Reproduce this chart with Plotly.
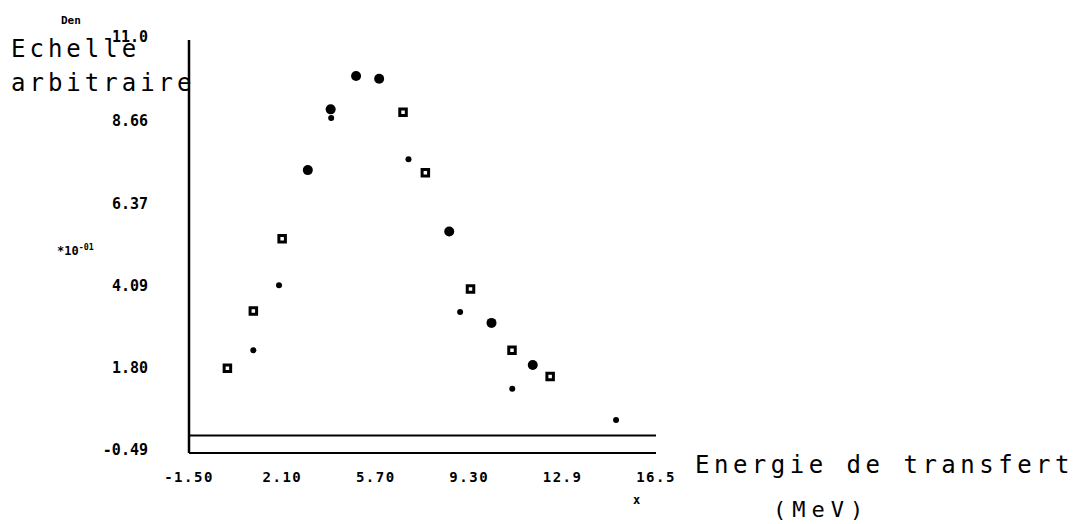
import plotly.graph_objects as go

# Measured transfer-energy spectrum (arbitrary scale, x10^-1)
# Filled circles
energy_filled = [3.08, 3.96, 4.94, 5.83, 8.53, 10.16, 11.75]
signal_filled = [7.38, 9.07, 10.0, 9.92, 5.67, 3.13, 1.96]

# Open squares
energy_open = [-0.02, 0.98, 2.09, 6.75, 7.61, 9.35, 10.95, 12.42]
signal_open = [1.87, 3.46, 5.47, 8.99, 7.31, 4.07, 2.37, 1.64]

# Small dots
energy_small = [0.98, 1.97, 3.98, 6.96, 8.95, 10.96, 14.96]
signal_small = [2.37, 4.18, 8.83, 7.68, 3.43, 1.30, 0.43]

# Axis ticks
x_ticks = [-1.50, 2.10, 5.70, 9.30, 12.9, 16.5]
x_tick_text = ["-1.50", "2.10", "5.70", "9.30", "12.9", "16.5"]
y_ticks = [11.0, 8.66, 6.37, 4.09, 1.80, -0.49]
y_tick_text = ["11.0", "8.66", "6.37", "4.09", "1.80", "-0.49"]

X_MIN, X_MAX = -1.5, 16.5
Y_MIN, Y_MAX = -0.49, 11.0

TXT = "DejaVu Sans Mono"
SP = '<span style="letter-spacing:1.5px">{}</span>'

fig = go.Figure()

fig.add_trace(go.Scatter(
    x=energy_open, y=signal_open, mode="markers",
    marker=dict(symbol="square", size=6.5, color="white",
                line=dict(color="black", width=3)),
    showlegend=False, hoverinfo="skip"))
fig.add_trace(go.Scatter(
    x=energy_filled, y=signal_filled, mode="markers",
    marker=dict(symbol="circle", size=10, color="black", line=dict(width=0)),
    showlegend=False, hoverinfo="skip"))
fig.add_trace(go.Scatter(
    x=energy_small, y=signal_small, mode="markers",
    marker=dict(symbol="circle", size=6, color="black", line=dict(width=0)),
    showlegend=False, hoverinfo="skip"))

# Frame: left axis and bottom axis (paper-referenced so they are not clipped)
fig.add_shape(type="line", xref="paper", yref="paper", x0=0, x1=0,
              y0=0, y1=1, line=dict(color="black", width=2.5))
fig.add_shape(type="line", xref="paper", yref="paper", x0=0, x1=1,
              y0=0, y1=0, line=dict(color="black", width=2))
# Baseline at zero
fig.add_shape(type="line", xref="paper", yref="y", x0=0, x1=1,
              y0=0, y1=0, line=dict(color="black", width=2))

fig.update_xaxes(range=[X_MIN, X_MAX], showgrid=False, zeroline=False,
                 showline=False, ticks="", tickvals=x_ticks,
                 ticktext=[SP.format(t) for t in x_tick_text],
                 tickfont=dict(family=TXT, size=14, color="black",
                               weight="bold"),
                 ticklabelstandoff=14)
fig.update_yaxes(range=[Y_MIN, Y_MAX], showgrid=False, zeroline=False,
                 showline=False, ticks="", tickvals=y_ticks,
                 ticktext=y_tick_text,
                 tickfont=dict(family=TXT, size=15, color="black",
                               weight="bold"),
                 ticklabelstandoff=40, ticklabelshift=-3)

L, R, T, B = 189, 426, 40, 71
PW, PH = 1082 - L - R, 524 - T - B


def px(xp):
    return (xp - L) / PW


def py(yp):
    return (524 - B - yp) / PH


def note(text, x, y, size, xanchor="left", bold=False, spacing=0):
    if spacing:
        text = '<span style="letter-spacing:%spx">%s</span>' % (spacing, text)
    fig.add_annotation(text=text, xref="paper", yref="paper",
                       x=px(x), y=py(y), xanchor=xanchor, yanchor="middle",
                       showarrow=False, borderpad=0,
                       font=dict(family=TXT, size=size, color="black",
                                 weight="bold" if bold else "normal"))


note("Den", 60, 21, 11, bold=True)
note("Echelle", 10, 49, 24, spacing=4)
note("arbitraire", 10, 83, 24, spacing=4)
note("*10<sup>-01</sup>", 56, 250, 12, bold=True)
note("Energie de transfert", 694, 465, 24, spacing=4.5)
note("(MeV)", 772, 510, 22, spacing=6)
note("x", 636, 500, 12, xanchor="center", bold=True)

fig.update_layout(width=1082, height=524, autosize=False,
                  margin=dict(l=L, r=R, t=T, b=B, pad=0),
                  paper_bgcolor="white", plot_bgcolor="white")

fig.write_html("out.html")
